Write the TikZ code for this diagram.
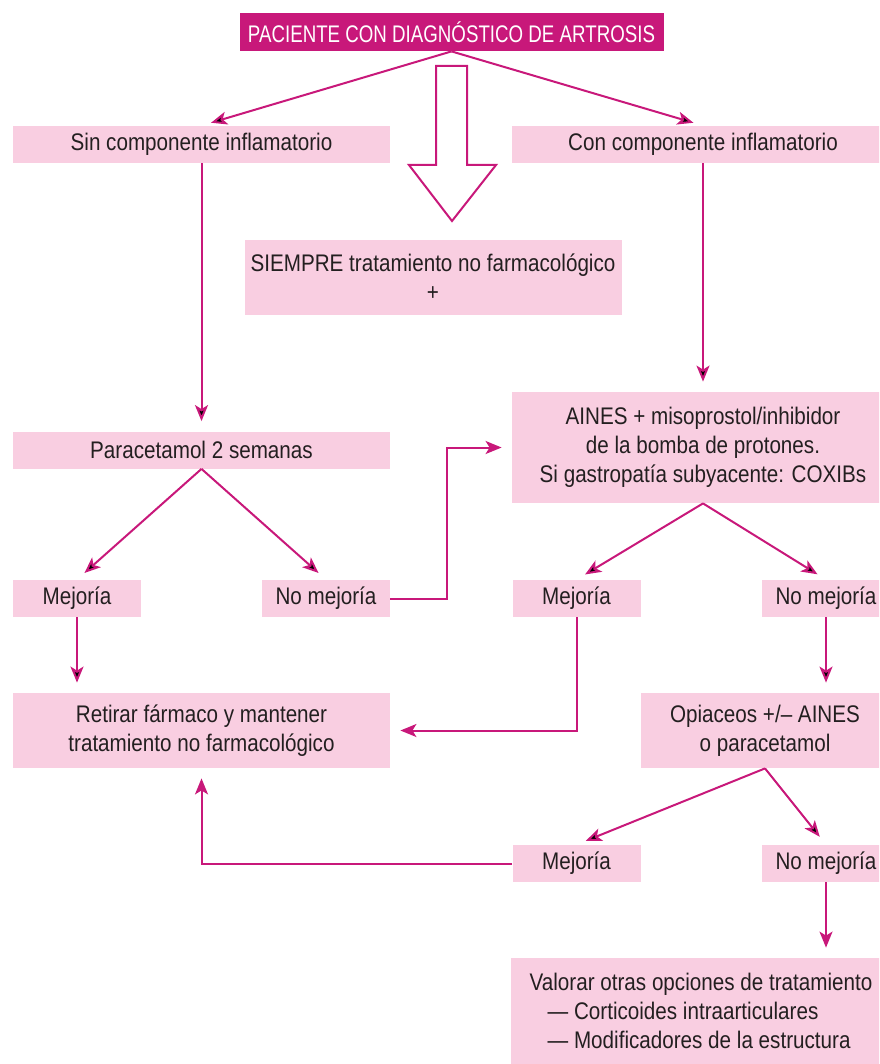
\documentclass[tikz,border=0pt]{standalone}
\usepackage{fontspec}
\setmainfont{Liberation Sans}[FakeStretch=0.86]
\newfontfamily\titlefont{Liberation Sans}[FakeStretch=0.78]
\usetikzlibrary{arrows.meta, positioning}
\definecolor{artmag}{RGB}{200,24,122}
\definecolor{artpink}{RGB}{249,206,225}
\definecolor{arttext}{RGB}{35,31,32}
\tikzset {
    ->,
    >={Stealth[length=8pt, width=6.5pt, inset=2pt]},
    every node/.style={font=\fontsize{12}{14.5}\selectfont, text=arttext},
    box/.style={fill=artpink, inner sep=0pt, minimum height=18.5pt, align=center},
    wide/.style={box, minimum width=188.5pt},
    small/.style={box, minimum width=64pt},
    head/.style={fill=artmag, text=white, inner sep=0pt, minimum width=212pt, minimum height=19pt,
                 font=\titlefont\fontsize{12}{14.5}\selectfont},
    link/.style={draw=artmag, line width=1pt, shorten >=5pt}
}

\begin{document}
\begin{tikzpicture}[x=0.5pt, y=-0.5pt]
                    \path[use as bounding box, clip] (0,0) rectangle (879,1064);

                    \node[head] (diag) at (451.5,32) {PACIENTE CON DIAGNÓSTICO DE ARTROSIS};
                    \node[wide] (sin) at (201.5,144.5) {Sin componente inflamatorio};
                    \node[wide, minimum width=191pt] (con) at (703,144.5) {Con componente inflamatorio};
                    \node[wide, minimum height=37.5pt] (siempre) at (433,277.5) {SIEMPRE tratamiento no farmacológico\\+};
                    \node[wide] (parac) at (201.5,450) {Paracetamol 2 semanas};
                    \node[wide, minimum width=191pt, minimum height=55.5pt] (aines) at (703,447.5) {AINES + misoprostol/inhibidor\\de la bomba de protones.\\Si gastropatía subyacente: COXIBs};
                    \node[small] (mej1) at (77,598.5) {Mejoría};
                    \node[small] (nomej1) at (326,598.5) {No mejoría};
                    \node[small] (mej2) at (576.5,598.5) {Mejoría};
                    \node[small] (nomej2) at (826,598.5) {No mejoría};
                    \node[wide, minimum height=37.5pt] (retirar) at (201.5,730.5) {Retirar fármaco y mantener\\tratamiento no farmacológico};
                    \node[box, minimum width=124pt, minimum height=37.5pt] (opia) at (765,730.5) {Opiaceos +/– AINES\\o paracetamol};
                    \node[small] (mej3) at (576.5,863.5) {Mejoría};
                    \node[small] (nomej3) at (826,863.5) {No mejoría};
                    \node[box, minimum width=190pt, minimum height=53pt, align=left] (valorar) at (701,1011) {Valorar otras opciones de tratamiento\\\hspace*{9pt}— Corticoides intraarticulares\\\hspace*{9pt}— Modificadores de la estructura};

                    % hollow arrow
                    \draw[draw=artmag, line width=1pt, fill=white]
                    (436,66) -- (467,66) -- (467,165) -- (496,165) -- (452,221) -- (409,165) -- (436,165) -- cycle;

                    \draw[link]
                    (diag.south) edge (sin.north)
                    (diag.south) edge (con.north)
                    (sin) edge (parac)
                    (con) edge (aines)
                    (parac.south) edge (mej1.north)
                    (parac.south) edge (nomej1.north)
                    (aines.south) edge (mej2.north)
                    (aines.south) edge (nomej2.north)
                    (mej1.south) edge (mej1.south |- retirar.north)
                    (nomej2.south) edge (nomej2.south |- opia.north)
                    (opia.south) edge (mej3.north)
                    (opia.south) edge (nomej3.north)
                    (nomej3.south) -- (nomej3.south |- valorar.north);

                    \draw[link] (nomej1.east) -- ++(57,0) |- (aines.west);
                    \draw[link] (mej2.south) |- (retirar.east);
                    \draw[link] (mej3.west) -| (retirar.south);
                    \end{tikzpicture}
\end{document}
